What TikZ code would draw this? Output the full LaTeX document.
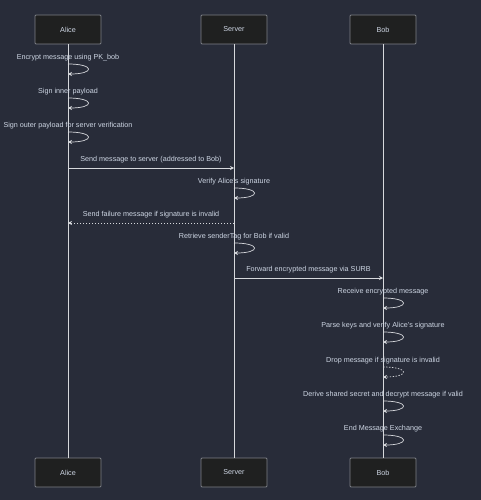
\documentclass[tikz,border=0pt]{standalone}
\usepackage{fontspec}
\setmainfont{Liberation Sans}
\usetikzlibrary{arrows.meta}

\definecolor{bgcol}{RGB}{40,44,57}
\definecolor{boxfill}{RGB}{31,32,32}
\definecolor{boxline}{RGB}{125,128,134}
\definecolor{linecol}{RGB}{214,216,220}
\definecolor{txtcol}{RGB}{206,214,228}

\tikzset{
  actor/.style={draw=boxline, fill=boxfill, rounded corners=1pt, minimum width=66pt, minimum height=29pt, inner sep=0pt, text=txtcol, font=\fontsize{7.2}{8}\selectfont, line width=0.8pt},
  lifeline/.style={linecol, line width=0.8pt},
  msg/.style={linecol, line width=0.7pt, -{Stealth[length=4pt,width=4pt]}},
  msgtext/.style={text=txtcol, font=\fontsize{7.2}{8}\selectfont, inner sep=0pt},
  selfloop/.style={linecol, line width=0.7pt, -{Stealth[length=4pt,width=4pt]}}
}

\begin{document}
\begin{tikzpicture}[x=1pt, y=-1pt]
\fill[bgcol] (0,0) rectangle (481,500);
\useasboundingbox (0,0) rectangle (481,500);

% actors
\node[actor] (aliceT) at (68,29.5) {Alice};
\node[actor] (serverT) at (234,29.5) {Server};
\node[actor] (bobT) at (383,29.5) {Bob};
\node[actor] (aliceB) at (68,472.5) {Alice};
\node[actor] (serverB) at (234,472.5) {Server};
\node[actor] (bobB) at (383,472.5) {Bob};

\draw[lifeline] (aliceT) -- (aliceB);
\draw[lifeline] (serverT) -- (serverB);
\draw[lifeline] (bobT) -- (bobB);

% messages between actors
\coordinate (m1a) at (68,168);
\coordinate (m1b) at (234,168);
\draw[msg] (m1a) -- (m1b) node[msgtext, midway, above=4.5pt]{Send message to server (addressed to Bob)};

\coordinate (m2a) at (234,223);
\coordinate (m2b) at (68,223);
\draw[msg, dash pattern=on 1.5pt off 1.5pt] (m2a) -- (m2b) node[msgtext, midway, above=4.5pt]{Send failure message if signature is invalid};

\coordinate (m3a) at (234,278);
\coordinate (m3b) at (383,278);
\draw[msg] (m3a) -- (m3b) node[msgtext, midway, above=4.5pt]{Forward encrypted message via SURB};

% self messages
\foreach \n/\x/\y/\txt in {
  s1/68/64/{Encrypt message using PK\_bob},
  s2/68/98/{Sign inner payload},
  s3/68/132/{Sign outer payload for server verification},
  s4/234/188/{Verify Alice's signature},
  s5/234/243/{Retrieve senderTag for Bob if valid},
  s6/383/298/{Receive encrypted message},
  s7/383/332/{Parse keys and verify Alice's signature},
  s9/383/401/{Derive shared secret and decrypt message if valid},
  s10/383/435/{End Message Exchange}}
{
  \coordinate (\n a) at (\x,\y);
  \coordinate (\n b) at (\x,\y+10);
  \node[msgtext] (\n t) at (\x,\y-6.5) {\txt};
  \draw[selfloop] (\n a) .. controls +(27,0) and +(27,0) .. (\n b);
}

\coordinate (s8a) at (383,367);
\coordinate (s8b) at (383,377);
\node[msgtext] (s8t) at (383,360.5) {Drop message if signature is invalid};
\draw[selfloop, dash pattern=on 1.5pt off 1.5pt] (s8a) .. controls +(27,0) and +(27,0) .. (s8b);

\end{tikzpicture}
\end{document}
